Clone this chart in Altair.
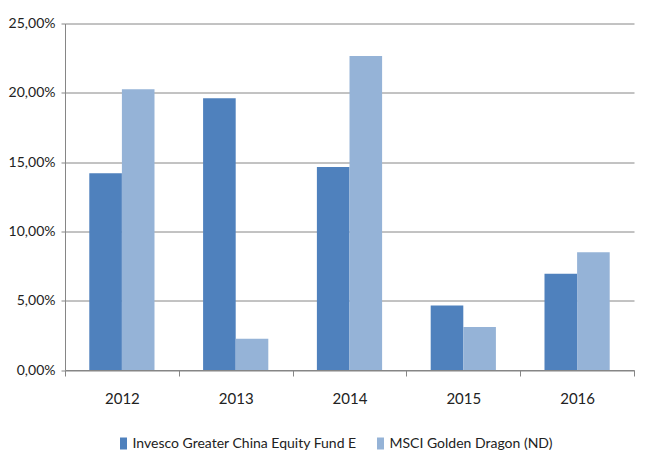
import altair as alt
import pandas as pd

years = ["2012", "2013", "2014", "2015", "2016"]
series_names = ["Invesco Greater China Equity Fund E", "MSCI Golden Dragon (ND)"]
fund_values = [14.2, 19.6, 14.65, 4.65, 6.95]
index_values = [20.25, 2.25, 22.65, 3.1, 8.5]
y_ticks = [0, 5, 10, 15, 20, 25]
colors = ["#4F81BD", "#95B3D7"]

rows = []
for i, y in enumerate(years):
    rows.append({"year": y, "series": series_names[0], "value": fund_values[i]})
    rows.append({"year": y, "series": series_names[1], "value": index_values[i]})
df = pd.DataFrame(rows)

FONT = "Lato"
GRID = "#868686"

chart = alt.Chart(df).mark_bar(strokeWidth=0).encode(
    x=alt.X(
        "year:N",
        sort=years,
        title=None,
        scale=alt.Scale(paddingInner=0, paddingOuter=0),
        axis=alt.Axis(
            labelAngle=0,
            tickBand="extent",
            tickSize=6,
            tickColor=GRID,
            domainColor=GRID,
            labelPadding=15,
            labelFontSize=15,
            grid=False,
        ),
    ),
    xOffset=alt.XOffset(
        "series:N",
        sort=series_names,
        scale=alt.Scale(paddingInner=0, paddingOuter=0.745),
    ),
    y=alt.Y(
        "value:Q",
        title=None,
        scale=alt.Scale(domain=[0, 25], nice=False),
        axis=alt.Axis(
            values=y_ticks,
            labelExpr="replace(format(datum.value, '.2f'), '.', ',') + '%'",
            tickSize=4,
            tickColor=GRID,
            domainColor=GRID,
            gridColor=GRID,
            labelPadding=6,
            labelFontSize=14,
        ),
    ),
    color=alt.Color(
        "series:N",
        sort=series_names,
        scale=alt.Scale(domain=series_names, range=colors),
        legend=alt.Legend(
            title=None,
            orient="none",
            direction="horizontal",
            legendX=51.5,
            legendY=413,
            symbolType="M-0.58,-1H0.58V1H-0.58Z",
            symbolSize=144,
            symbolStrokeWidth=0,
            labelOffset=2,
            columnPadding=16,
            padding=0,
        ),
    ),
).properties(
    width=569,
    height=346.5,
    autosize=alt.AutoSizeParams(type="none"),
    padding={"left": 57, "top": 15.5, "right": 8, "bottom": 96},
).configure_view(
    stroke=None
).configure_axis(
    labelFont=FONT,
    labelColor="#222222",
    domainWidth=1,
    gridWidth=1,
).configure_legend(
    labelFont=FONT,
    labelFontSize=14,
    labelColor="#222222",
    labelLimit=400,
)

chart.save("out.html", embed_options={"renderer": "svg", "actions": False})
